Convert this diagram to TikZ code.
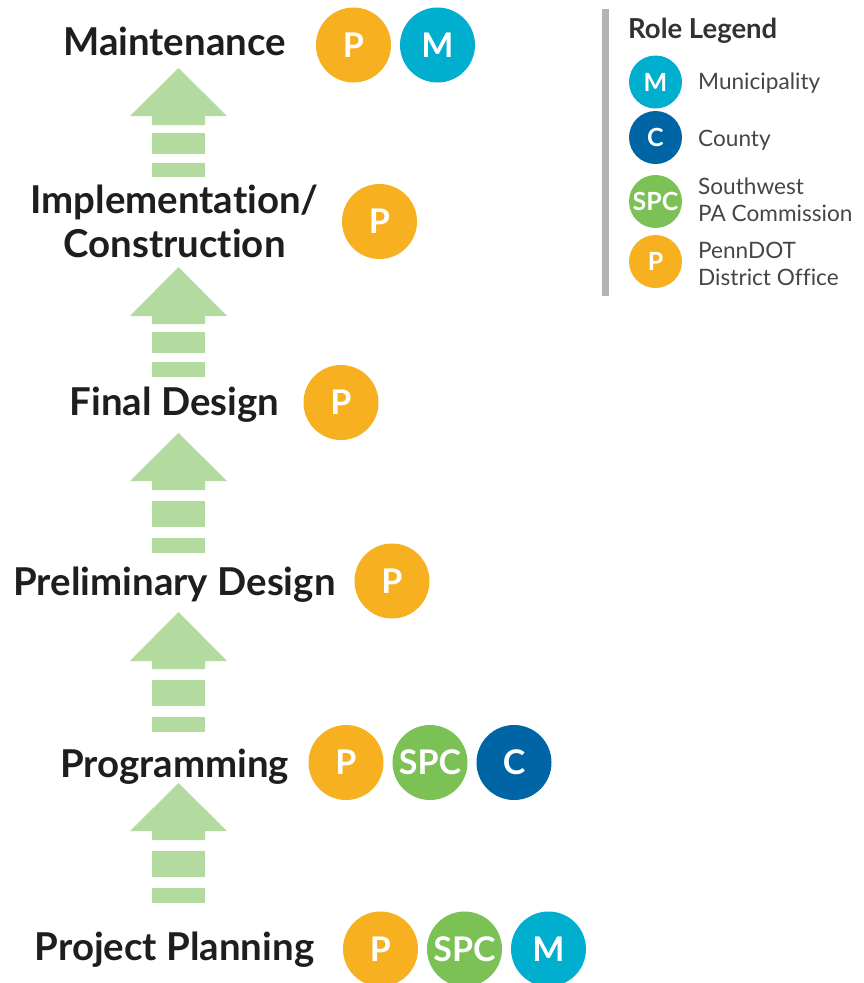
\documentclass[tikz,border=0pt]{standalone}
\usepackage{fontspec}
\setmainfont{Lato}[Ligatures=NoCommon]

\definecolor{penndot}{RGB}{247,176,32}
\definecolor{muni}{RGB}{0,174,206}
\definecolor{county}{RGB}{0,101,164}
\definecolor{spc}{RGB}{123,193,85}
\definecolor{flow}{RGB}{179,219,159}
\definecolor{ink}{RGB}{30,30,30}
\definecolor{keyink}{RGB}{70,70,70}
\definecolor{titleink}{RGB}{50,50,50}
\definecolor{rulegray}{RGB}{180,180,180}

% upward block arrow: tip, head base, first bar end, second bar, third bar
\newcommand\stagearrow[7]{%
  \fill[flow] (178.5,#1) -- (227,#2) -- (205,#2) -- (205,#3) -- (152,#3)
     -- (152,#2) -- (130,#2) -- cycle;
  \fill[flow] (152,#4) rectangle (205,#5);
  \fill[flow] (152,#6) rectangle (205,#7);
}

\begin{document}
\begin{tikzpicture}[x=1pt,y=-1pt,
  stage/.style={font=\bfseries\fontsize{38.4}{44}\selectfont, text=ink,
    anchor=base, inner sep=0pt, align=center},
  role/.style={circle, minimum size=75pt, inner sep=0pt, text=white,
    font=\bfseries\fontsize{34}{34}\selectfont},
  key/.style={circle, minimum size=53pt, inner sep=0pt, text=white,
    font=\bfseries\fontsize{25}{25}\selectfont},
  keytext/.style={anchor=base west, inner sep=0pt, text=keyink,
    font=\fontsize{22.6}{26.7}\selectfont, align=left},
  rP/.style={role, fill=penndot},
  rM/.style={role, fill=muni},
  rC/.style={role, fill=county},
  rS/.style={role, fill=spc},
]
\useasboundingbox (0,0) rectangle (863,983);
\fill[white] (0,0) rectangle (863,983);

% flow arrows between stages
\stagearrow{68}{116}{125}{133}{154}{163}{177}
\stagearrow{267}{316}{324}{332}{353}{362}{377}
\stagearrow{433}{481}{490}{501}{527}{538}{553}
\stagearrow{612}{661}{669}{680}{706}{717}{732}
\stagearrow{783}{831}{840}{851}{877}{888}{903}

% stages (base anchor of a two-line node sits on its last line)
\node[stage] (maint)  at (174.5,55)  {Maintenance};
\node[stage] (impl)   at (174.5,257) {Implementation/\\Construction};
\node[stage] (final)  at (174.5,415) {Final Design};
\node[stage] (prelim) at (174.5,595) {Preliminary Design};
\node[stage] (prog)   at (174.5,777) {Programming};
\node[stage] (plan)   at (174.5,960) {Project Planning};

% roles per stage
\node[rP] (maintP) at (353.5,45) {P};
\node[rM] (maintM) at (437.5,45) {M};
\node[rP] (implP)  at (379.5,221.5) {P};
\node[rP] (finalP) at (341,402.5) {P};
\node[rP] (prelimP) at (392,581) {P};
\node[rP] (progP)  at (346,762.5) {P};
\node[rS] (progS)  at (430,762.5) {SPC};
\node[rC] (progC)  at (514,762.5) {C};
\node[rP] (planP)  at (380.5,949) {P};
\node[rS] (planS)  at (464.5,949) {SPC};
\node[rM] (planM)  at (548.5,949) {M};

% legend
\fill[rulegray] (601.5,9) rectangle (608.5,296);
\node[anchor=base west, inner sep=0pt, text=titleink,
  font=\bfseries\fontsize{27.5}{27.5}\selectfont] (legtitle) at (628,38) {Role Legend};
\node[key, fill=muni]    (keyM) at (655.5,82)    {M};
\node[key, fill=county]  (keyC) at (655.5,137.5) {C};
\node[key, fill=spc]     (keyS) at (655.5,201.5) {SPC};
\node[key, fill=penndot] (keyP) at (655.5,261.5) {P};
\node[keytext] (txtM) at (698,89.5)  {Municipality};
\node[keytext] (txtC) at (698,146)   {County};
\node[keytext] (txtS) at (698,221.5) {Southwest\\PA Commission};
\node[keytext] (txtP) at (698,285)   {PennDOT\\District Office};
\end{tikzpicture}
\end{document}
